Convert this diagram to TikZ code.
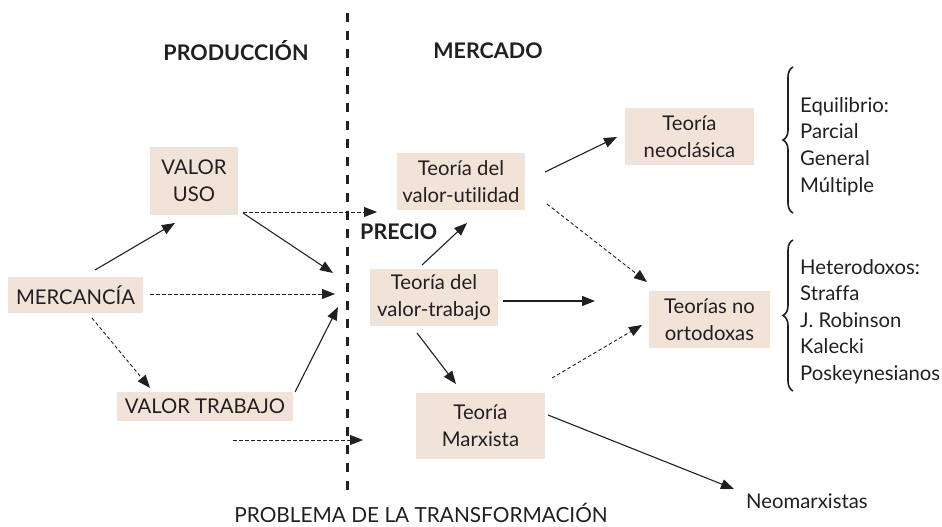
\documentclass[tikz,border=0pt]{standalone}
\usepackage{fontspec}
\setmainfont[Ligatures=NoCommon]{Lato}
\usetikzlibrary{arrows.meta,calc,decorations.pathreplacing}
\definecolor{boxfill}{HTML}{F2E3D8}
\definecolor{ink}{HTML}{231F20}
\begin{document}
\begin{tikzpicture}[x=1pt,y=-1pt,
  every node/.style={font=\fontsize{20.3}{26.6}\selectfont, text=ink, inner sep=0pt},
  bx/.style={fill=boxfill, align=center},
  arr/.style={draw=ink, line width=1.1pt, -{Triangle[length=13pt,width=10pt]}},
  darr/.style={draw=ink, line width=0.9pt, dash pattern=on 3.5pt off 2.5pt, -{Triangle[length=13pt,width=10pt]}},
  head/.style={font=\fontsize{21.5}{24}\selectfont\bfseries},
  lst/.style={align=left, anchor=west},
  brc/.style={draw=ink, line width=1.6pt, decorate, decoration={brace, amplitude=10pt}}]
\useasboundingbox (0,0) rectangle (942,527);

% divider
\coordinate (dtop) at (347,13);
\coordinate (dbot) at (347,495);
\draw[ink, line width=3pt, dash pattern=on 9pt off 9pt] (dtop) -- (dbot);

% headings
\node[head] (prod) at (236,51) {PRODUCCIÓN};
\node[head] (merc) at (488,51) {MERCADO};
\node[head, anchor=west] (precio) at (360,232) {PRECIO};

% boxes
\node[bx, minimum width=88pt, minimum height=68pt] (vuso) at (194,181) {VALOR\\USO};
\node[bx, minimum width=135pt, minimum height=36pt] (mer) at (75.5,295) {MERCANCÍA};
\node[bx, minimum width=176pt, minimum height=29pt] (vtra) at (205,406.5) {VALOR TRABAJO};
\node[bx, minimum width=128pt, minimum height=57pt] (vu) at (461,181.5) {Teoría del\\valor-utilidad};
\node[bx, minimum width=128pt, minimum height=57pt] (vt) at (434,297.5) {Teoría del\\valor-trabajo};
\node[bx, minimum width=129pt, minimum height=66pt] (mar) at (480.5,425.5) {Teoría\\Marxista};
\node[bx, minimum width=129pt, minimum height=57pt] (neo) at (689.5,136.5) {Teoría\\neoclásica};
\node[bx, minimum width=121pt, minimum height=57pt] (nort) at (709.5,319.5) {Teorías no\\ortodoxas};

\node[anchor=west] (neom) at (746,501) {Neomarxistas};
\node[font=\fontsize{20.8}{24}\selectfont] (prob) at (421,513) {PROBLEMA DE LA TRANSFORMACIÓN};

% lists
\node[lst] (eq) at (800,146.5) {Equilibrio:\\Parcial\\General\\Múltiple};
\node[lst] (het) at (800,321.5) {Heterodoxos:\\Straffa\\J. Robinson\\Kalecki\\Poskeynesianos};

% braces
\coordinate (b1a) at (793,213);
\coordinate (b1b) at (793,67);
\coordinate (b2a) at (793,391);
\coordinate (b2b) at (793,240);
\draw[brc] (b1a) -- (b1b);
\draw[brc] (b2a) -- (b2b);

% free ends
\coordinate (p1) at (333,273);
\coordinate (p2) at (335,294);
\coordinate (p3) at (338,307);
\coordinate (p4) at (377,212);
\coordinate (p5a) at (233,440);
\coordinate (p5b) at (363,440);
\coordinate (p6) at (595,301);

% connectors, production side
\draw[arr] ($(mer)+(19.5,-25)$) -- ($(vuso)+(-19,42)$);
\draw[arr] ($(vuso)+(49,32)$) -- (p1);
\draw[darr] ($(vuso)+(49,31)$) -- (p4);
\draw[darr] ($(mer)+(74.5,-1)$) -- (p2);
\draw[darr] ($(mer)+(16.5,23)$) -- ($(vtra)+(-55,-18.5)$);
\draw[arr] ($(vtra)+(90,-14.5)$) -- (p3);
\draw[darr] (p5a) -- (p5b);

% connectors, market side
\draw[arr] ($(vt)+(-12,-32.5)$) -- ($(vu)+(6,41.5)$);
\draw[arr] ($(vt)+(69,3.5)$) -- (p6);
\draw[arr] ($(vt)+(-17,35.5)$) -- ($(mar)+(-24.5,-41.5)$);
\draw[arr] ($(vu)+(84,-9.5)$) -- ($(neo)+(-72.5,0.5)$);
\draw[darr] ($(vu)+(86,22.5)$) -- ($(nort)+(-62.5,-37.5)$);
\draw[darr] ($(mar)+(71.5,-47.5)$) -- ($(nort)+(-67.5,5.5)$);
\draw[arr] ($(mar)+(67.5,-10.5)$) -- ($(neom.west)+(-12,-12)$);
\end{tikzpicture}
\end{document}
